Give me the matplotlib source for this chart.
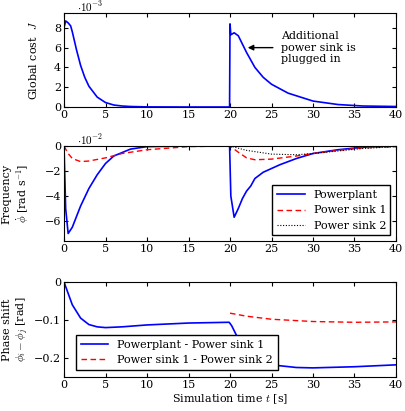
import matplotlib
matplotlib.use("Agg")
import matplotlib.pyplot as plt

plt.rcParams['font.family'] = ['DejaVu Serif']
plt.rcParams['mathtext.fontset'] = 'cm'
plt.rcParams['font.size'] = 8

tJ = [0,0.2,0.5,0.8,1,1.5,2,2.5,3,4,5,6,7,8,10,15,19.95,20,20.1,20.5,21,22,23,24,25,27,30,33,36,40]
J = [8.0,8.7,8.5,8.2,7.6,5.8,4.2,3.0,2.1,1.0,0.45,0.2,0.1,0.05,0.01,0.0,0.0,8.4,7.3,7.5,7.2,5.5,4.0,3.0,2.3,1.4,0.6,0.25,0.1,0.05]

tP = [0,0.2,0.5,1,2,3,4,5,6,8,10,15,19.95,20.1,20.5,21,21.5,22,22.5,23,24,26,28,30,33,36,40]
P = [0,-5,-7.0,-6.5,-4.8,-3.4,-2.3,-1.4,-0.8,-0.25,-0.05,0,0,-4,-5.7,-5.0,-4.2,-3.6,-3.2,-2.6,-2.1,-1.5,-1.0,-0.6,-0.3,-0.1,0]
tS1 = [0,0.5,1,2,3,5,7,10,15,20,21,22,23,25,28,30,33,36,40]
S1 = [0,-0.6,-1.0,-1.25,-1.2,-0.95,-0.6,-0.3,-0.05,0,-0.5,-0.95,-1.1,-1.05,-0.8,-0.6,-0.35,-0.15,-0.05]
tS2 = [20,22,25,28,30,33,36,40]
S2 = [0,-0.35,-0.65,-0.7,-0.6,-0.4,-0.2,-0.05]

tD1 = [0,1,2,3,4,5,7,10,15,19.9,20.2,21,22,23,25,28,30,35,40]
D1 = [0,-0.06,-0.095,-0.112,-0.118,-0.12,-0.118,-0.113,-0.108,-0.106,-0.115,-0.15,-0.18,-0.2,-0.218,-0.225,-0.226,-0.223,-0.218]
tD2 = [20,22,25,30,35,40]
D2 = [-0.082,-0.09,-0.098,-0.104,-0.106,-0.105]

fig = plt.figure(figsize=(4.06,4.11), dpi=100)
W, H = 406, 411
def ax_at(top, bot):
    return fig.add_axes([64/W, 1-bot/H, 332/W, (bot-top)/H])
a1 = ax_at(13,107); a2 = ax_at(146,241); a3 = ax_at(282,377)
for a in (a1,a2,a3):
    a.set_xlim(0,40); a.set_xticks(range(0,41,5))
    a.tick_params(direction='in', top=True, right=True, length=3, labelsize=8, pad=2)

a1.plot(tJ, J, color='blue', lw=1.2)
a1.set_ylim(0,9.5); a1.set_yticks([0,2,4,6,8])
a1.set_ylabel('Global cost  $J$')
a1.yaxis.set_label_coords(-0.075, 0.5)
a1.text(0.04,1.01,r'$\cdot10^{-3}$', transform=a1.transAxes, fontsize=8)
a1.annotate('', xy=(21.8,6.0), xytext=(25.5,6.0),
            arrowprops=dict(arrowstyle='-|>', color='black', lw=1.0, mutation_scale=8))
a1.text(26.2,6.0,'Additional\npower sink is\nplugged in', va='center', ha='left', fontsize=8)

a2.plot(tP, P, color='blue', lw=1.2, label='Powerplant')
a2.plot(tS1, S1, color='red', lw=1.0, ls=(0,(4,2.5)), label='Power sink 1')
a2.plot(tS2, S2, color='black', lw=0.8, ls=(0,(1,1.5)), label='Power sink 2')
a2.set_ylim(-7.6,0); a2.set_yticks([-6,-4,-2,0])
a2.set_yticklabels(['−6','−4','−2','0'])
a2.set_ylabel('Frequency\n$\\dot{\\phi}$ [rad s$^{-1}$]')
a2.yaxis.set_label_coords(-0.1, 0.5)
a2.text(0.04,1.01,r'$\cdot10^{-2}$', transform=a2.transAxes, fontsize=8)
a2.legend(loc='lower right', fancybox=False, edgecolor='black', framealpha=1, fontsize=8, handlelength=2.5)

a3.plot(tD1, D1, color='blue', lw=1.2, label='Powerplant - Power sink 1')
a3.plot(tD2, D2, color='red', lw=1.0, ls=(0,(4,2.5)), label='Power sink 1 - Power sink 2')
a3.set_ylim(-0.25,0); a3.set_yticks([-0.2,-0.1,0])
a3.set_yticklabels(['−0.2','−0.1','0'])
a3.set_ylabel('Phase shift\n$\\phi_i - \\phi_j$ [rad]')
a3.yaxis.set_label_coords(-0.1, 0.5)
a3.set_xlabel('Simulation time $t$ [s]', labelpad=2)
a3.legend(loc='lower left', bbox_to_anchor=(0.02,0.02), fancybox=False, edgecolor='black', framealpha=1, fontsize=8, handlelength=2.5)

fig.savefig('out.png', dpi=100)
